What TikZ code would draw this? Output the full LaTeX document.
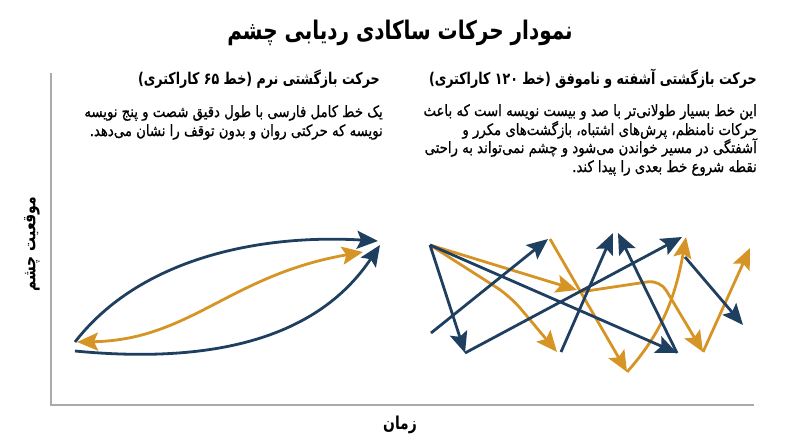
\documentclass[tikz,border=0pt]{standalone}
\usepackage{fontspec}
\usetikzlibrary{arrows.meta}
\TeXXeTstate=1
\newfontfamily\pfont[Script=Arabic,FakeStretch=0.85,FakeBold=0.8]{DejaVu Sans}
\newfontfamily\pbfont[Script=Arabic,FakeStretch=0.78,UprightFont=*-Bold]{DejaVu Sans}
\definecolor{eyeblue}{RGB}{31,63,96}
\definecolor{eyeorange}{RGB}{214,148,36}
\definecolor{axisgray}{RGB}{170,170,170}
\tikzset{
  tipshape/.style={Stealth[length=21pt,width=18pt,inset=4pt]},
  tip/.style={-{Stealth[length=21pt,width=18pt,inset=4pt]}},
  bl/.style={draw=eyeblue, line width=2.8pt, tip},
  og/.style={draw=eyeorange, line width=2.8pt, tip},
  titletxt/.style={font=\pbfont\fontsize{25.6}{30}\selectfont, text=black},
  headtxt/.style={font=\pbfont\fontsize{16.2}{19}\selectfont, text=black, anchor=base east, inner sep=0pt},
  paratxt/.style={font=\pfont\fontsize{15.6}{18}\selectfont, text=black, anchor=base east, inner sep=0pt},
  axtxt/.style={font=\pbfont\fontsize{17.8}{21}\selectfont, text=black},
}
\begin{document}
\begin{tikzpicture}[x=1pt,y=-1pt]
\useasboundingbox (0,0) rectangle (800,447);
\fill[white] (0,0) rectangle (800,447);

% title
\node[titletxt] (title) at (400,33) {\beginR نمودار حرکات ساکادی ردیابی چشم\endR};

% right column
\node[headtxt] (rhead) at (757,84) {\beginR حرکت بازگشتی آشفته و ناموفق (خط \beginL ۱۲۰\endL{} کاراکتری)\endR};
\node[paratxt] (rl1) at (757,116) {\beginR این خط بسیار طولانی^^^^200cتر با صد و بیست نویسه است که باعث\endR};
\node[paratxt] (rl2) at (757,135) {\beginR حرکات نامنظم، پرش^^^^200cهای اشتباه، بازگشت^^^^200cهای مکرر و\endR};
\node[paratxt] (rl3) at (757,153) {\beginR آشفتگی در مسیر خواندن می^^^^200cشود و چشم نمی^^^^200cتواند به راحتی\endR};
\node[paratxt] (rl4) at (757,172) {\beginR نقطه شروع خط بعدی را پیدا کند.\endR};

% left column
\node[headtxt] (lhead) at (380,84) {\beginR حرکت بازگشتی نرم (خط \beginL ۶۵\endL{} کاراکتری)\endR};
\node[paratxt] (ll1) at (383,117) {\beginR یک خط کامل فارسی با طول دقیق شصت و پنج نویسه\endR};
\node[paratxt] (ll2) at (383,136) {\beginR نویسه که حرکتی روان و بدون توقف را نشان می^^^^200cدهد.\endR};

% axes
\coordinate (ax0) at (51,405);
\coordinate (axtop) at (51,73);
\coordinate (axright) at (754,405);
\draw[axisgray, line width=1.2pt] (axtop) -- (ax0) -- (axright);
\node[axtxt] (xlab) at (400,425) {\beginR زمان\endR};
\node[axtxt, rotate=90] (ylab) at (32,244) {\beginR موقعیت چشم\endR};

% left: smooth return
\coordinate (ls1) at (75,342);
\coordinate (le1) at (378,241);
\coordinate (ls2) at (75,351);
\coordinate (le2) at (380,245);
\coordinate (os) at (77,342);
\coordinate (oe) at (363,252);
\draw[bl] (ls1) .. controls (140,258) and (260,234) .. (le1);
\draw[bl] (ls2) .. controls (220,365) and (320,335) .. (le2);
\draw[og, {Stealth[length=21pt,width=18pt,inset=4pt]}-{Stealth[length=21pt,width=18pt,inset=4pt]}] (os) .. controls (190,340) and (230,275) .. (oe);

% right: chaotic return
\coordinate (p0) at (430,245);
\coordinate (a) at (465,353);
\coordinate (b) at (682,237);
\coordinate (q1) at (431,333);
\coordinate (q2) at (548,239);
\coordinate (c) at (677,353);
\coordinate (e) at (561,352);
\coordinate (d1) at (613,233);
\coordinate (d2) at (618,233);
\coordinate (h1) at (685,257);
\coordinate (h2) at (743,325);
\coordinate (o1) at (577,290);
\coordinate (o1b) at (580,292);
\coordinate (o1c) at (660,280);
\coordinate (o2) at (557,352);
\coordinate (o2c) at (510,296);
\coordinate (o3) at (550,239);
\coordinate (f) at (627,372);
\coordinate (g) at (686,237);
\coordinate (k) at (703,352);
\coordinate (l) at (750,248);

\draw[og] (p0) -- (o1);
\draw[og, rounded corners=16pt] (p0) -- (o2c) -- (o2);
\draw[og] (o3) -- (f);
\draw[og] (f) .. controls (660,335) and (675,300) .. (g);
\draw[og, rounded corners=12pt] (o1b) -- (o1c) -- (k);
\draw[og] (k) -- (l);

\draw[bl] (p0) -- (a);
\draw[bl] (a) -- (b);
\draw[bl] (q1) -- (q2);
\draw[bl] (p0) -- (c);
\draw[bl] (e) -- (d1);
\draw[bl] (c) -- (d2);
\draw[bl] (h1) -- (h2);
\end{tikzpicture}
\end{document}
